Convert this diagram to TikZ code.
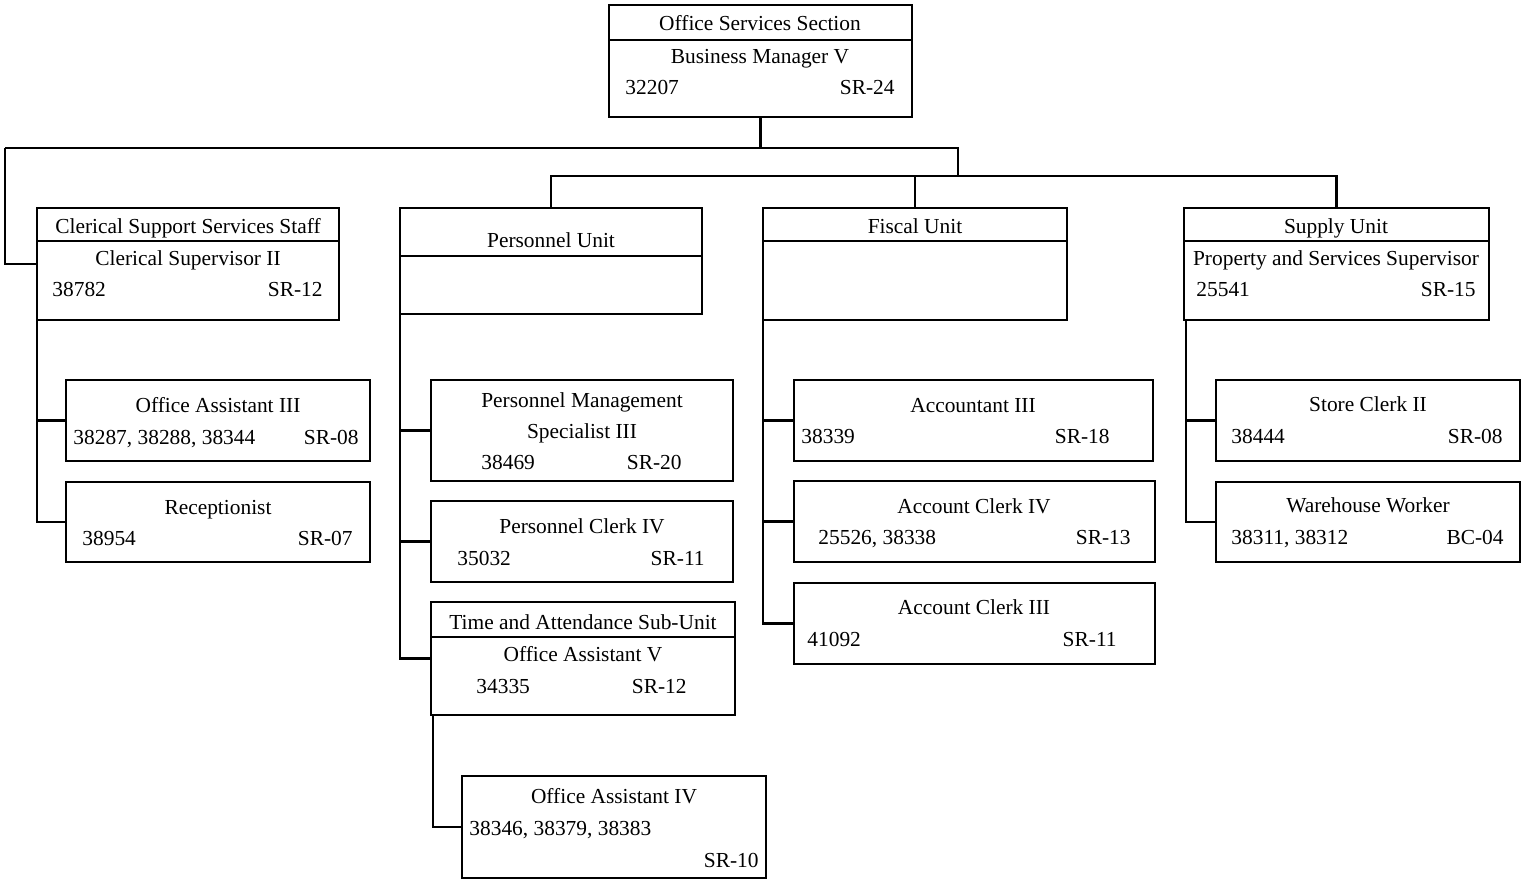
\documentclass[tikz,border=0pt]{standalone}
\usepackage{fontspec}
\setmainfont{Liberation Serif}
\usetikzlibrary{fit}

\begin{document}
\begin{tikzpicture}[x=0.5pt, y=-0.5pt,
    box/.style={draw, line width=1.2pt, inner sep=0pt, outer sep=0pt},
    wire/.style={line width=1.2pt},
    lbl/.style={inner sep=0pt, anchor=mid, yshift=-1.5pt, font=\fontsize{10.7}{12}\selectfont},
    lbll/.style={lbl, anchor=mid west},
    lblr/.style={lbl, anchor=mid east}]
    \useasboundingbox (0,0) rectangle (1524,880);

    % section head
    \node[box, fit={(609,5) (912,117)}] (top) {};
    \draw[wire] (top.west |- 0,40) -- (top.east |- 0,40);
    \node[lbl] (top-h) at (760,23) {Office Services Section};
    \node[lbl] (top-t) at (760,56) {Business Manager V};
    \node[lbll] (top-n) at (625,87) {32207};
    \node[lblr] (top-g) at (895,87) {SR-24};

    % units
    \node[box, fit={(37,208) (339,320)}] (cler) {};
    \draw[wire] (cler.west |- 0,241) -- (cler.east |- 0,241);
    \node[lbl] (cler-h) at (188,226) {Clerical Support Services Staff};
    \node[lbl] (cler-t) at (188,258) {Clerical Supervisor II};
    \node[lbll] (cler-n) at (52,289) {38782};
    \node[lblr] (cler-g) at (323,289) {SR-12};

    \node[box, fit={(400,208) (702,314)}] (pers) {};
    \draw[wire] (pers.west |- 0,256) -- (pers.east |- 0,256);
    \node[lbl] (pers-h) at (551,240) {Personnel Unit};

    \node[box, fit={(763,208) (1067,320)}] (fisc) {};
    \draw[wire] (fisc.west |- 0,241) -- (fisc.east |- 0,241);
    \node[lbl] (fisc-h) at (915,226) {Fiscal Unit};

    \node[box, fit={(1184,208) (1489,320)}] (supp) {};
    \draw[wire] (supp.west |- 0,241) -- (supp.east |- 0,241);
    \node[lbl] (supp-h) at (1336,226) {Supply Unit};
    \node[lbl] (supp-t) at (1336,258) {Property and Services Supervisor};
    \node[lbll] (supp-n) at (1196,289) {25541};
    \node[lblr] (supp-g) at (1476,289) {SR-15};

    % clerical staff
    \node[box, fit={(66,380) (370,461)}] (oa3) {};
    \node[lbl] (oa3-t) at (218,405) {Office Assistant III};
    \node[lbll] (oa3-n) at (73,437) {38287, 38288, 38344};
    \node[lblr] (oa3-g) at (359,437) {SR-08};

    \node[box, fit={(66,482) (370,562)}] (recp) {};
    \node[lbl] (recp-t) at (218,507) {Receptionist};
    \node[lbll] (recp-n) at (82,538) {38954};
    \node[lblr] (recp-g) at (353,538) {SR-07};

    % personnel staff
    \node[box, fit={(431,380) (733,481)}] (pms) {};
    \node[lbl] (pms-t1) at (582,400) {Personnel Management};
    \node[lbl] (pms-t2) at (582,431) {Specialist III};
    \node[lbll] (pms-n) at (481,462) {38469};
    \node[lblr] (pms-g) at (682,462) {SR-20};

    \node[box, fit={(431,501) (733,582)}] (pc4) {};
    \node[lbl] (pc4-t) at (582,526) {Personnel Clerk IV};
    \node[lbll] (pc4-n) at (457,558) {35032};
    \node[lblr] (pc4-g) at (705,558) {SR-11};

    \node[box, fit={(431,602) (735,715)}] (ta) {};
    \draw[wire] (ta.west |- 0,637) -- (ta.east |- 0,637);
    \node[lbl] (ta-h) at (583,622) {Time and Attendance Sub-Unit};
    \node[lbl] (ta-t) at (583,654) {Office Assistant V};
    \node[lbll] (ta-n) at (476,686) {34335};
    \node[lblr] (ta-g) at (687,686) {SR-12};

    \node[box, fit={(462,776) (766,878)}] (oa4) {};
    \node[lbl] (oa4-t) at (614,796) {Office Assistant IV};
    \node[lbll] (oa4-n) at (469,828) {38346, 38379, 38383};
    \node[lblr] (oa4-g) at (759,860) {SR-10};

    % fiscal staff
    \node[box, fit={(794,380) (1153,461)}] (acc3) {};
    \node[lbl] (acc3-t) at (973,405) {Accountant III};
    \node[lbll] (acc3-n) at (801,436) {38339};
    \node[lblr] (acc3-g) at (1110,436) {SR-18};

    \node[box, fit={(794,481) (1155,562)}] (ack4) {};
    \node[lbl] (ack4-t) at (974,506) {Account Clerk IV};
    \node[lbll] (ack4-n) at (818,537) {25526, 38338};
    \node[lblr] (ack4-g) at (1131,537) {SR-13};

    \node[box, fit={(794,583) (1155,664)}] (ack3) {};
    \node[lbl] (ack3-t) at (974,607) {Account Clerk III};
    \node[lbll] (ack3-n) at (807,639) {41092};
    \node[lblr] (ack3-g) at (1117,639) {SR-11};

    % supply staff
    \node[box, fit={(1216,380) (1520,461)}] (sc2) {};
    \node[lbl] (sc2-t) at (1368,404) {Store Clerk II};
    \node[lbll] (sc2-n) at (1231,436) {38444};
    \node[lblr] (sc2-g) at (1503,436) {SR-08};

    \node[box, fit={(1216,482) (1520,562)}] (ware) {};
    \node[lbl] (ware-t) at (1368,505) {Warehouse Worker};
    \node[lbll] (ware-n) at (1231,537) {38311, 38312};
    \node[lblr] (ware-g) at (1504,537) {BC-04};

    % connectors
    \coordinate (busl) at (5,148);
    \coordinate (busr) at (958,148);
    \coordinate (bus2) at (958,176);
    \draw[wire] (top.south) -- (top.south |- busl);
    \draw[wire] (busl) -- (busr) -- (bus2);
    \draw[wire] (busl) |- (cler.west);
    \draw[wire] (pers.north) |- (bus2) -| (supp.north);
    \draw[wire] (fisc.north) -- (fisc.north |- bus2);

    \foreach \b in {oa3, recp}
        \draw[wire] (cler.south west) |- (\b.west);
    \foreach \b in {pms, pc4, ta}
        \draw[wire] (pers.south west) |- (\b.west);
    \foreach \b in {acc3, ack4, ack3}
        \draw[wire] (fisc.south west) |- (\b.west);
    \foreach \b in {sc2, ware}
        \draw[wire] ([xshift=1pt]supp.south west) |- (\b.west);
    \draw[wire] ([xshift=1pt]ta.south west) |- (oa4.west);
\end{tikzpicture}
\end{document}
